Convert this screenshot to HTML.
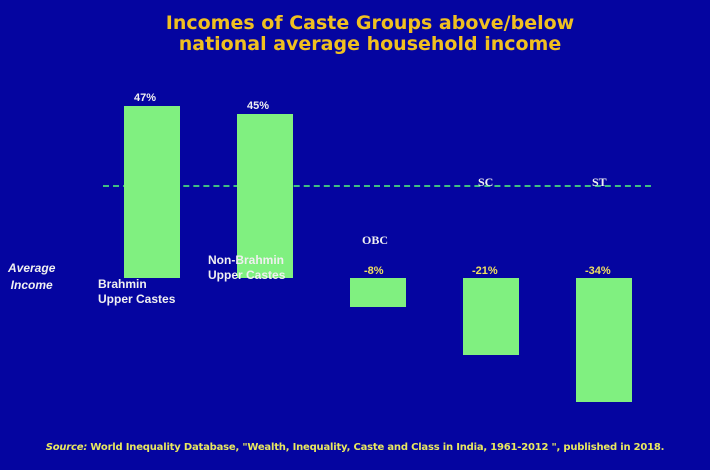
<!DOCTYPE html>
<html><head><style>
body{margin:0;width:710px;height:470px;background:#0505a0;font-family:"Liberation Sans",sans-serif;position:relative;overflow:hidden}
div{position:absolute}
.b{background:#80f080}
.t{color:#f0f0f0;font-weight:bold;font-size:12px;white-space:nowrap}
.y{color:#f0e060;font-weight:bold;font-size:11px}
</style></head><body>
<div style="left:0;width:740px;top:13px;text-align:center;color:#f0c020;font-weight:bold;font-size:19px;line-height:21px;font-family:'DejaVu Sans',sans-serif">Incomes of Caste Groups above/below<br>national average household income</div>
<div style="left:103px;top:185px;width:548px;border-top:2px dashed #40c080"></div>
<div class="b" style="left:124px;top:106px;width:56px;height:172px"></div>
<div class="b" style="left:237px;top:114px;width:56px;height:164px"></div>
<div class="b" style="left:350px;top:278px;width:56px;height:29px"></div>
<div class="b" style="left:463px;top:278px;width:56px;height:77px"></div>
<div class="b" style="left:576px;top:278px;width:56px;height:124px"></div>
<div class="t" style="left:134px;top:92px;font-size:11px">47%</div>
<div class="t" style="left:247px;top:100px;font-size:11px">45%</div>
<div class="y" style="left:364px;top:265px">-8%</div>
<div class="y" style="left:472px;top:265px">-21%</div>
<div class="y" style="left:585px;top:265px">-34%</div>
<div class="t" style="left:362px;top:233px;font-family:'Liberation Serif',serif">OBC</div>
<div class="t" style="left:478px;top:175px;font-family:'Liberation Serif',serif">SC</div>
<div class="t" style="left:592px;top:175px;font-family:'Liberation Serif',serif">ST</div>
<div class="t" style="left:208px;top:253px;line-height:15px">Non-Brahmin<br>Upper Castes</div>
<div class="t" style="left:98px;top:277px;line-height:15px">Brahmin<br>Upper Castes</div>
<div class="t" style="left:8px;top:260px;line-height:17px;font-style:italic;text-align:center">Average<br>Income</div>
<div style="left:0;width:710px;top:442px;text-align:center;color:#e8e860;font-size:10px;font-weight:bold;font-family:'DejaVu Sans',sans-serif;letter-spacing:-0.2px"><i>Source:</i> World Inequality Database, "Wealth, Inequality, Caste and Class in India, 1961-2012 ", published in 2018.</div>
</body></html>
